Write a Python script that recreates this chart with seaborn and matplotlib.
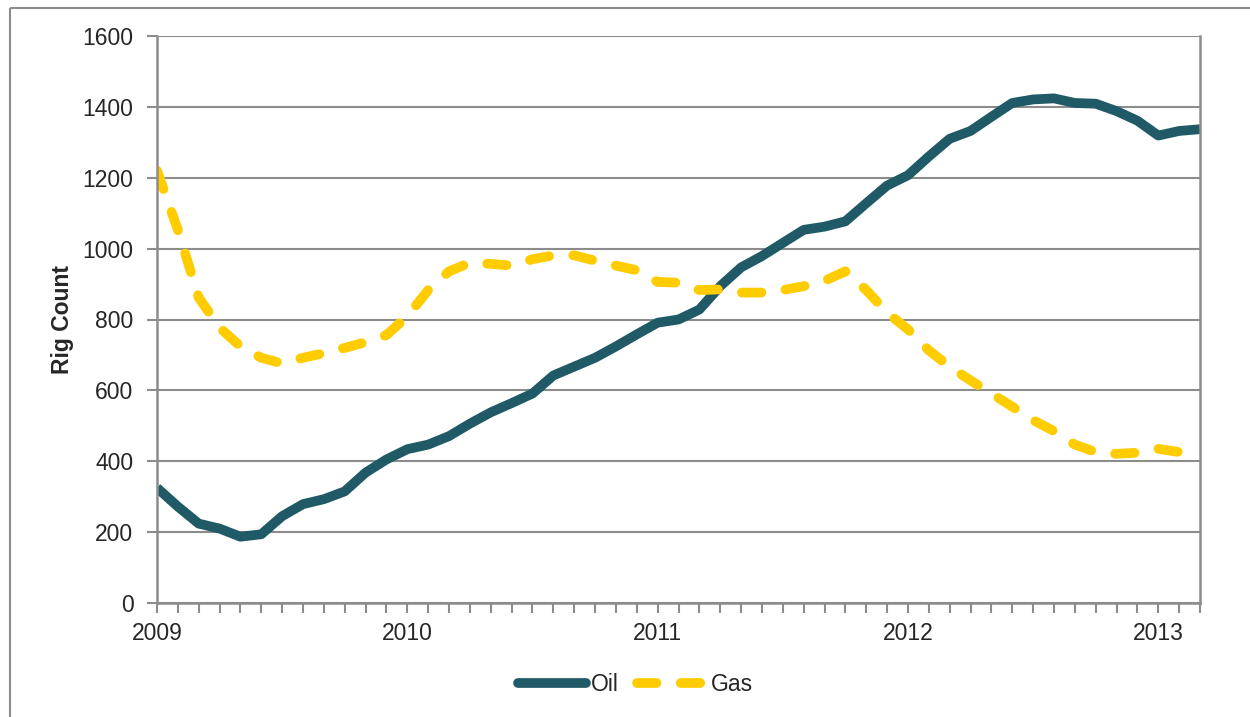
import numpy as np
import pandas as pd
import matplotlib
matplotlib.use("Agg")
import matplotlib.pyplot as plt
import seaborn as sns
from matplotlib.lines import Line2D

# --- data: monthly rig counts, Jan 2009 .. Mar 2013 ---
oil = [325, 272, 224, 210, 187, 194, 245, 279, 293, 315,
       368, 405, 434, 447, 471, 506, 538, 564, 591, 642,
       667, 692, 724, 758, 791, 800, 828, 894, 947, 979,
       1016, 1053, 1062, 1077, 1128, 1178, 1207, 1260, 1310, 1332,
       1372, 1411, 1421, 1424, 1411, 1409, 1388, 1361, 1319, 1332,
       1337]
gas = [1220, 1053, 862, 777, 724, 692, 676, 692, 705, 720,
       736, 756, 809, 883, 936, 960, 957, 952, 970, 981,
       981, 966, 952, 939, 906, 904, 883, 885, 876, 876,
       883, 894, 909, 936, 883, 819, 772, 713, 667, 628,
       591, 554, 516, 485, 447, 426, 421, 424, 435, 426,
       412]
months = list(range(len(oil)))
year_ticks = [0, 12, 24, 36, 48]
year_labels = ["2009", "2010", "2011", "2012", "2013"]
y_ticks = [0, 200, 400, 600, 800, 1000, 1200, 1400, 1600]

df = pd.DataFrame({
    "month": months * 2,
    "count": oil + gas,
    "series": ["Oil"] * len(oil) + ["Gas"] * len(gas),
})

sns.set_style("white")
plt.rcParams["font.family"] = ["Liberation Sans", "DejaVu Sans"]
plt.rcParams["lines.dash_capstyle"] = "round"
plt.rcParams["lines.solid_capstyle"] = "butt"

grid_col = "#8c8c8c"
oil_col, gas_col = "#1f5a66", "#ffcc00"
gas_dash = (2.0, 2.5)
fs = 16.5

fig = plt.figure(figsize=(12.5, 7.17), dpi=100)
ax = fig.add_axes([157 / 1250, 1 - 603 / 717, (1200 - 157) / 1250, (603 - 36) / 717])

sns.lineplot(data=df, x="month", y="count", hue="series", style="series",
             palette={"Oil": oil_col, "Gas": gas_col},
             dashes={"Oil": "", "Gas": gas_dash},
             linewidth=7, ax=ax, legend=False)
for ln in ax.get_lines():
    ln.set_solid_joinstyle("round")
    ln.set_dash_joinstyle("round")

ax.set_xlim(0, 50)
ax.set_ylim(0, 1600)
ax.set_yticks(y_ticks)
ax.set_yticklabels([str(v) for v in y_ticks], fontsize=fs)
ax.set_xticks(year_ticks)
ax.set_xticklabels(year_labels, fontsize=fs)
ax.set_xticks(months, minor=True)
ax.tick_params(axis="x", which="both", direction="out", length=7, width=1.5,
               color=grid_col, pad=7, bottom=True)
ax.tick_params(axis="y", direction="out", length=7, width=1.5, color=grid_col,
               pad=10, left=True)
ax.yaxis.grid(True, color=grid_col, linewidth=1.5)
ax.set_axisbelow(True)
for side in ["left", "bottom", "right"]:
    ax.spines[side].set_color(grid_col)
    ax.spines[side].set_linewidth(1.8)
ax.spines["top"].set_visible(False)
ax.set_xlabel("")
ax.set_ylabel("Rig Count", fontsize=fs, fontweight="bold", labelpad=6)

handles = [Line2D([], [], color=oil_col, lw=7, solid_capstyle="round"),
           Line2D([], [], color=gas_col, lw=7, linestyle=(0, gas_dash),
                  dash_capstyle="round")]
fig.legend(handles, ["Oil", "Gas"], loc="center", bbox_to_anchor=(0.508, 0.045),
           ncol=2, frameon=False, fontsize=fs, handlelength=3.0,
           columnspacing=0.8, handletextpad=0.2)

# outer chart border (left and top visible)
fig.add_artist(Line2D([10 / 1250, 10 / 1250], [0, 1 - 8 / 717],
                      transform=fig.transFigure, color=grid_col, lw=1.5))
fig.add_artist(Line2D([10 / 1250, 1], [1 - 8 / 717, 1 - 8 / 717],
                      transform=fig.transFigure, color=grid_col, lw=1.5))

fig.savefig("out.png", dpi=100)
